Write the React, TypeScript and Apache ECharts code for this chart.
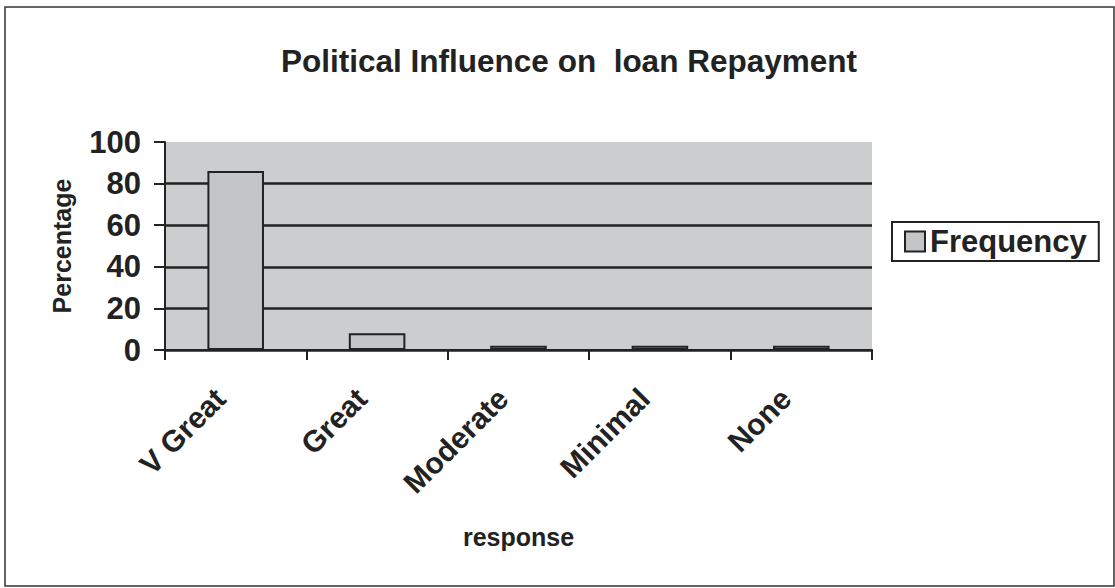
import React, { useEffect, useRef } from "react";
import * as echarts from "echarts";

const categories = ["V Great", "Great", "Moderate", "Minimal", "None"];
const frequency = [86, 8, 2, 2, 2];
const yTicks = { min: 0, max: 100, interval: 20 };
const titleText = "Political Influence on  loan Repayment";
const xName = "response";
const yName = "Percentage";
const seriesName = "Frequency";

const FONT = "Arial, 'Liberation Sans', Helvetica, sans-serif";
const INK = "#222";

export default function App() {
  const ref = useRef<HTMLDivElement>(null);
  useEffect(() => {
    if (!ref.current) return;
    const chart = echarts.init(ref.current, null, { renderer: "svg" });
    chart.setOption({
      animation: false,
      backgroundColor: "#ffffff",
      textStyle: { fontFamily: FONT, color: INK },
      title: {
        text: titleText,
        left: 564,
        top: 40,
        textAlign: "center",
        textStyle: { fontFamily: FONT, fontWeight: "bold", fontSize: 31.5, color: INK },
      },
      legend: {
        left: 892,
        top: 222,
        orient: "vertical",
        padding: [4, 12, 4, 12],
        borderColor: INK,
        borderWidth: 2,
        itemWidth: 20,
        itemHeight: 20,
        itemGap: 0,
        icon: "rect",
        itemStyle: { borderColor: INK, borderWidth: 2 },
        textStyle: { fontFamily: FONT, fontWeight: "bold", fontSize: 31, color: INK },
        data: [seriesName],
      },
      grid: {
        left: 165,
        right: 243,
        top: 142,
        height: 208,
        show: true,
        backgroundColor: "#cbcdce",
        borderWidth: 0,
      },
      xAxis: {
        type: "category",
        data: categories,
        name: xName,
        nameLocation: "middle",
        nameGap: 174,
        nameTextStyle: { fontFamily: FONT, fontWeight: "bold", fontSize: 25, color: INK },
        axisLine: { show: true, lineStyle: { color: INK, width: 2 } },
        axisTick: { show: true, alignWithLabel: false, length: 10, lineStyle: { color: INK, width: 2 } },
        axisLabel: {
          rotate: 45,
          margin: 28,
          padding: [0, 22, 0, 0],
          interval: 0,
          fontFamily: FONT,
          fontWeight: "bold",
          fontSize: 30,
          color: INK,
        },
        splitLine: { show: false },
      },
      yAxis: {
        type: "value",
        min: yTicks.min,
        max: yTicks.max,
        interval: yTicks.interval,
        name: yName,
        nameLocation: "middle",
        nameGap: 91,
        nameTextStyle: { fontFamily: FONT, fontWeight: "bold", fontSize: 25, color: INK },
        axisLine: { show: true, lineStyle: { color: INK, width: 2 } },
        axisTick: { show: true, inside: false, length: 11, lineStyle: { color: INK, width: 2 } },
        axisLabel: {
          margin: 24,
          fontFamily: FONT,
          fontWeight: "bold",
          fontSize: 31,
          color: INK,
        },
        splitLine: {
          show: true,
          lineStyle: {
            color: [INK, INK, INK, INK, INK, "rgba(0,0,0,0)"],
            width: 2.5,
          },
        },
      },
      series: [
        {
          name: seriesName,
          type: "bar",
          data: frequency,
          barWidth: "40%",
          itemStyle: { color: "#c3c5c6", borderColor: INK, borderWidth: 2 },
        },
      ],
      graphic: [
        {
          type: "rect",
          shape: { x: 5, y: 7, width: 1109, height: 579 },
          style: { fill: "none", stroke: "#333", lineWidth: 1.5 },
          silent: true,
        },
      ],
    });
    return () => chart.dispose();
  }, []);
  return (
    <div
      ref={ref}
      style={{ position: "absolute", left: 0, top: 0, width: 1115, height: 588 }}
    />
  );
}
